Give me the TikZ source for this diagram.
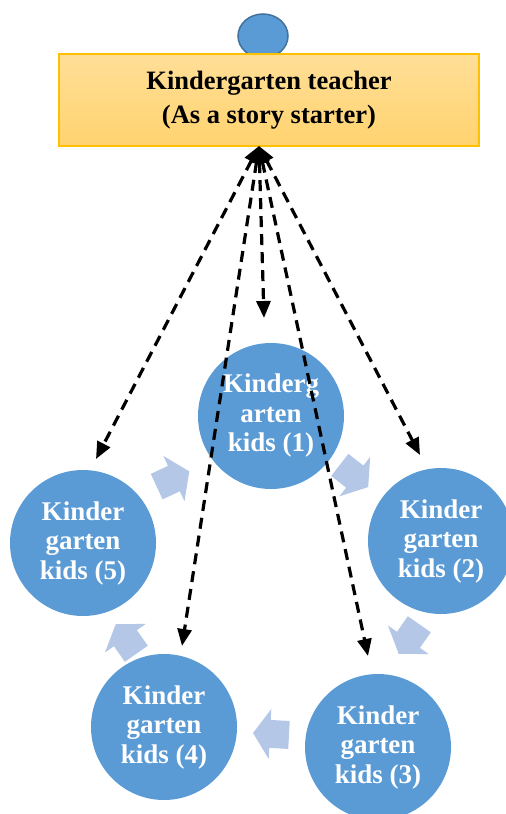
\documentclass[tikz,border=0pt]{standalone}
\usepackage{fontspec}
\setmainfont{Liberation Serif}
\usetikzlibrary{arrows.meta,shapes.geometric}
\definecolor{kidblue}{HTML}{5B9BD5}
\definecolor{headedge}{HTML}{41719C}
\definecolor{boxedge}{HTML}{FFC000}
\definecolor{boxtop}{HTML}{FFDE97}
\definecolor{boxbot}{HTML}{FFD36F}
\definecolor{cyclearrow}{HTML}{B4C7E7}
\tikzset{
  kid/.style={circle, fill=kidblue, minimum size=146pt, inner sep=0pt, text=white,
    font=\fontsize{27}{29.5}\selectfont\bfseries, align=center},
  teacherbox/.style={rectangle, draw=boxedge, line width=1.2pt, top color=boxtop, bottom color=boxbot,
    minimum width=420pt, minimum height=92pt, font=\fontsize{26.5}{34}\selectfont\bfseries, align=center},
  headshape/.style={ellipse, fill=kidblue, draw=headedge, line width=1.5pt, minimum width=50pt, minimum height=44pt, inner sep=0pt},
  link/.style={black, line width=3.2pt, dash pattern=on 11pt off 7pt, {Triangle[length=17pt,width=14pt]}-{Triangle[length=17pt,width=14pt]}},
  cyc/.style={fill=cyclearrow, draw=none}
}
\newcommand{\cyclearrow}[3]{%
  \fill[cyc, shift={(#1,#2)}, rotate=#3] (-18,-14) -- (1,-14) -- (1,-25) -- (18,0) -- (1,25) -- (1,14) -- (-18,14) -- cycle;}
\begin{document}
\begin{tikzpicture}[x=1pt,y=-1pt]
\useasboundingbox (0,0) rectangle (506,814);
\node[headshape] (h) at (263,36) {};
\node[teacherbox] (t) at (269,100) {Kindergarten teacher\\(As a story starter)};
\node[kid] (k1) at (271,416) {Kinderg\\arten\\kids (1)};
\node[kid] (k2) at (441,541) {Kinder\\garten\\kids (2)};
\node[kid] (k3) at (378,747) {Kinder\\garten\\kids (3)};
\node[kid] (k4) at (164,727) {Kinder\\garten\\kids (4)};
\node[kid] (k5) at (83,543) {Kinder\\garten\\kids (5)};
\cyclearrow{173}{479}{25}
\cyclearrow{354}{476}{-38}
\cyclearrow{409}{639}{-125}
\cyclearrow{271}{734}{-183}
\cyclearrow{126}{639}{-235}
\coordinate (s) at (259,146);
\coordinate (e5) at (96,459);
\coordinate (e1) at (264,318);
\coordinate (e2) at (420,455);
\coordinate (e4) at (182,646);
\coordinate (e3) at (368,656);
\draw[link] (s) -- (e5);
\draw[link] (s) -- (e1);
\draw[link] (s) -- (e2);
\draw[link] (s) -- (e4);
\draw[link] (s) -- (e3);
\end{tikzpicture}
\end{document}
